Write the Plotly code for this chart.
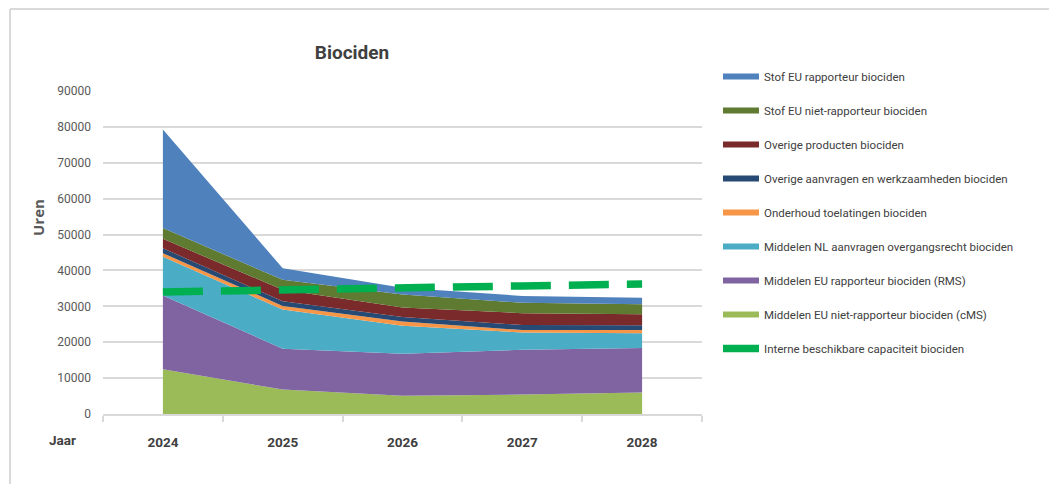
import plotly.graph_objects as go

# ── Data ──────────────────────────────────────────────────────────────────────
jaren = [2024, 2025, 2026, 2027, 2028]

cms_eu_niet_rapp = [12500, 6800, 5100, 5400, 6000]
rms_eu_rapp = [20500, 11400, 11700, 12500, 12400]
nl_overgangsrecht = [10800, 10900, 7800, 4800, 4100]
onderhoud = [1000, 1000, 1200, 700, 900]
overige_aanvragen = [1400, 1300, 1200, 1400, 1300]
overige_producten = [2600, 3200, 2700, 3300, 3100]
stof_niet_rapp = [3000, 2800, 3600, 2900, 2800]
stof_rapp = [27500, 3200, 1900, 1900, 1800]

capaciteit = [34000, 34400, 35300, 35700, 36200]

# bottom -> top of the stack
series = [
    ("Middelen EU niet-rapporteur biociden (cMS)", cms_eu_niet_rapp, "#9bbb59"),
    ("Middelen EU rapporteur biociden (RMS)", rms_eu_rapp, "#8064a2"),
    ("Middelen NL aanvragen overgangsrecht biociden", nl_overgangsrecht, "#4bacc6"),
    ("Onderhoud toelatingen biociden", onderhoud, "#f79646"),
    ("Overige aanvragen en werkzaamheden biociden", overige_aanvragen, "#274a74"),
    ("Overige producten biociden", overige_producten, "#7a2a2a"),
    ("Stof EU niet-rapporteur biociden", stof_niet_rapp, "#5e7b31"),
    ("Stof EU rapporteur biociden", stof_rapp, "#4f81bd"),
]

FONT = "Roboto, Open Sans, sans-serif"

# the page body has an 8px margin: everything below is laid out in screen pixels
OFF = 8
W, H = 1057 - OFF, 484 - OFF
L, R, T, B = 103 - OFF, 702 - OFF, 91 - OFF, 414 - OFF


def px_x(p):
    return (p - OFF - L) / (R - L)


def px_y(p):
    return (B - (p - OFF)) / (B - T)


fig = go.Figure()

n = len(series)
for i, (naam, vals, kleur) in enumerate(series):
    fig.add_trace(go.Scatter(
        x=jaren, y=vals, name=naam,
        mode="none", stackgroup="one",
        fillcolor=kleur,
        legendgroup=naam, legendrank=n - i,
        hoverinfo="skip",
    ))

fig.add_trace(go.Scatter(
    x=jaren, y=capaciteit, name="Interne beschikbare capaciteit biociden",
    mode="lines",
    line=dict(color="#00b050", width=7.5, dash="40px,18px"),
    legendgroup="cap", legendrank=n + 1,
    hoverinfo="skip",
))

fig.update_layout(
    width=W, height=H,
    margin=dict(l=L, r=W - R, t=T, b=H - B),
    paper_bgcolor="white", plot_bgcolor="white",
    font=dict(family=FONT, color="#404040"),
    title=dict(
        text="<b>Biociden</b>", x=(352 - OFF) / W, xanchor="center", xref="container",
        y=1 - (52 - OFF) / H, yanchor="middle", yref="container",
        font=dict(size=19, color="#404040", family=FONT),
    ),
    showlegend=True,
    legend=dict(
        x=px_x(718), y=px_y(363), xanchor="left", yanchor="bottom",
        font=dict(size=11.5, color="#404040", family=FONT),
        tracegroupgap=15, itemwidth=36,
        bgcolor="rgba(0,0,0,0)",
    ),
    xaxis=dict(
        range=[2023.5, 2028.5], tickvals=jaren, ticktext=[str(j) for j in jaren],
        showgrid=False, zeroline=False,
        showline=True, linecolor="#d9d9d9", linewidth=1.5,
        ticks="", ticklabelstandoff=15,
        tickfont=dict(size=13.5, color="#404040", family=FONT, weight="bold"),
        minor=dict(tick0=2023.5, dtick=1, ticks="outside", ticklen=6,
                   tickcolor="#d9d9d9", tickwidth=1.5, showgrid=False),
        fixedrange=True,
    ),
    yaxis=dict(
        range=[0, 90000], dtick=10000, tickformat="d",
        showgrid=True, gridcolor="#d9d9d9", gridwidth=1.5,
        zeroline=False, showline=False, ticks="", ticklabelstandoff=11,
        tickfont=dict(size=12, color="#595959", family=FONT),
        fixedrange=True,
    ),
    annotations=[
        dict(text="<b>Jaar</b>", x=px_x(62), y=px_y(440), xref="paper", yref="paper",
             showarrow=False, xanchor="center", yanchor="middle",
             font=dict(size=13.5, color="#404040", family=FONT)),
        dict(text="<b>Uren</b>", x=px_x(38), y=px_y(218), xref="paper", yref="paper",
             showarrow=False, xanchor="center", yanchor="middle", textangle=-90,
             font=dict(size=15, color="#595959", family="Open Sans, sans-serif")),
    ],
    shapes=[
        dict(type="line", xref="paper", yref="paper",
             x0=px_x(10), x1=px_x(1057), y0=px_y(9), y1=px_y(9),
             line=dict(color="#d9d9d9", width=2)),
        dict(type="line", xref="paper", yref="paper",
             x0=px_x(10), x1=px_x(10), y0=px_y(9), y1=px_y(484),
             line=dict(color="#d9d9d9", width=2)),
    ],
)

fig.write_html("out.html")
